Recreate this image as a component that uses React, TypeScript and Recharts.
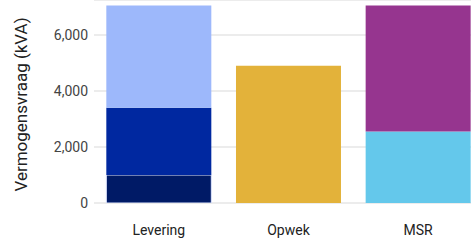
import React from 'react';
import { BarChart, Bar, XAxis, YAxis, CartesianGrid, Cell } from 'recharts';

const categories = ['Levering', 'Opwek', 'MSR'];
const seriesA = [1000, 4900, 2550];
const seriesB = [2400, 0, 4500];
const seriesC = [3650, 0, 0];
const yTicks = [0, 2000, 4000, 6000];

const colorsA = ['#001a66', '#e3b23a', '#64c8eb'];
const colorsB = ['#0028a0', '#e3b23a', '#96358f'];
const colorsC = ['#9db8fb', '#9db8fb', '#9db8fb'];

const data = categories.map((name, i) => ({
  name,
  a: seriesA[i],
  b: seriesB[i],
  c: seriesC[i],
}));

const fmt = (v: number) => v.toLocaleString('en-US');

const YLabel = (props: any) => {
  const vb = props.viewBox || { x: 0, y: 0, width: 94, height: 203 };
  const cx = 21;
  const cy = vb.y + vb.height / 2 + 3;
  return (
    <text
      x={cx}
      y={cy}
      transform={`rotate(-90, ${cx}, ${cy})`}
      textAnchor="middle"
      dominantBaseline="central"
      fill="#222"
      fontSize={17}
      fontFamily="Roboto"
    >
      Vermogensvraag (kVA)
    </text>
  );
};

export default function App() {
  return (
    <div style={{ position: 'absolute', left: 0, top: 0, width: 471, height: 240, overflow: 'hidden', background: '#fff' }}>
      <BarChart
        width={483}
        height={240}
        data={data}
        margin={{ top: 0, right: 0, bottom: 0, left: 0 }}
        barCategoryGap="9.5%"
      >
        <CartesianGrid vertical={false} stroke="#e6e6e6" strokeWidth={1.5} />
        <XAxis
          dataKey="name"
          axisLine={false}
          tickLine={false}
          height={37}
          tickSize={0}
          tickMargin={22}
          tick={{ fill: '#222', fontSize: 14, fontFamily: 'Roboto' }}
        />
        <YAxis
          width={94}
          domain={[0, 7250]}
          ticks={yTicks}
          allowDataOverflow
          axisLine={false}
          tickLine={false}
          tickSize={0}
          tickMargin={6}
          tickFormatter={fmt}
          tick={{ fill: '#444', fontSize: 14, fontFamily: 'Roboto' }}
          label={<YLabel />}
        />
        <Bar dataKey="a" stackId="s" isAnimationActive={false}>
          {data.map((d, i) => (
            <Cell key={i} fill={colorsA[i]} stroke={i === 0 ? '#dfe6ff' : 'none'} strokeWidth={i === 0 ? 1 : 0} />
          ))}
        </Bar>
        <Bar dataKey="b" stackId="s" isAnimationActive={false}>
          {data.map((d, i) => (
            <Cell key={i} fill={colorsB[i]} />
          ))}
        </Bar>
        <Bar dataKey="c" stackId="s" isAnimationActive={false}>
          {data.map((d, i) => (
            <Cell key={i} fill={colorsC[i]} />
          ))}
        </Bar>
      </BarChart>
    </div>
  );
}
